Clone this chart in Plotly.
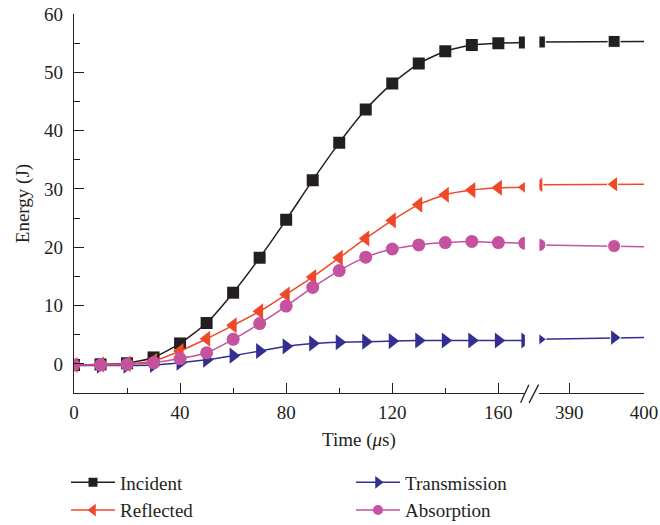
import plotly.graph_objects as go

# ---- data ----
time_left = [0, 10, 20, 30, 40, 50, 60, 70, 80, 90, 100, 110, 120, 130, 140, 150, 160, 170]
time_right = [386, 396, 400]

incident_left = [-0.2, -0.1, 0.1, 1.1, 3.5, 7.0, 12.2, 18.2, 24.7, 31.5, 37.9, 43.6, 48.1, 51.5, 53.6, 54.7, 55.0, 55.1]
incident_right = [55.2, 55.3, 55.3]

reflected_left = [-0.2, -0.1, 0.0, 0.5, 2.2, 4.3, 6.6, 9.0, 11.9, 14.9, 18.2, 21.5, 24.6, 27.3, 29.0, 29.8, 30.2, 30.3]
reflected_right = [30.7, 30.8, 30.8]

transmission_left = [-0.3, -0.3, -0.3, -0.2, 0.2, 0.7, 1.4, 2.2, 3.0, 3.5, 3.7, 3.8, 3.9, 4.0, 4.0, 4.0, 4.0, 4.0]
transmission_right = [4.2, 4.5, 4.5]

absorption_left = [-0.2, -0.2, -0.1, 0.2, 0.9, 1.9, 4.2, 6.9, 9.9, 13.1, 16.0, 18.3, 19.7, 20.4, 20.8, 21.0, 20.8, 20.7]
absorption_right = [20.4, 20.2, 20.1]

series_names = ["Incident", "Reflected", "Transmission", "Absorption"]
left_tick_vals = [0, 40, 80, 120, 160]
right_tick_vals = [390, 400]
y_tick_vals = [0, 10, 20, 30, 40, 50, 60]

# ---- style ----
FONT = "Liberation Serif"
INK = "#231F20"
styles = {
    "Incident": dict(color="#231F20", symbol="square", size=12, lsize=9),
    "Reflected": dict(color="#EE4A2A", symbol="triangle-left", size=14, lsize=11),
    "Transmission": dict(color="#352E92", symbol="triangle-right", size=14, lsize=11),
    "Absorption": dict(color="#C4529F", symbol="circle", size=13, lsize=10),
}
legend_of = {"Incident": "legend", "Reflected": "legend",
             "Transmission": "legend2", "Absorption": "legend2"}

data_left = [incident_left, reflected_left, transmission_left, absorption_left]
data_right = [incident_right, reflected_right, transmission_right, absorption_right]

fig = go.Figure()
for name, yl, yr in zip(series_names, data_left, data_right):
    st = styles[name]
    fig.add_trace(go.Scatter(
        x=time_left, y=yl, name=name, mode="lines+markers", showlegend=False,
        line=dict(color=st["color"], width=1.5, shape="spline", smoothing=0.6),
        marker=dict(color=st["color"], symbol=st["symbol"], size=st["size"], opacity=1),
        xaxis="x", yaxis="y",
    ))
    sizes = [st["size"]] * (len(time_right) - 1) + [0]
    fig.add_trace(go.Scatter(
        x=time_right, y=yr, name=name, mode="lines+markers", showlegend=False,
        line=dict(color=st["color"], width=1.5),
        marker=dict(color=st["color"], symbol=st["symbol"], size=sizes, opacity=1),
        xaxis="x2", yaxis="y",
    ))
    # legend entry (smaller marker, like the reference key)
    fig.add_trace(go.Scatter(
        x=[None], y=[None], name=name, mode="lines+markers",
        line=dict(color=st["color"], width=1.5),
        marker=dict(color=st["color"], symbol=st["symbol"], size=st["lsize"], opacity=1),
        xaxis="x", yaxis="y", legend=legend_of[name],
    ))

axis_common = dict(showline=True, linecolor=INK, linewidth=1.3,
                   ticks="inside", tickcolor=INK, tickwidth=1.3,
                   showgrid=False, zeroline=False, automargin=False,
                   tickfont=dict(family=FONT, size=19, color=INK))

legend_common = dict(xanchor="left", yanchor="top", font=dict(family=FONT, size=19, color=INK),
                     tracegroupgap=0, bgcolor="rgba(0,0,0,0)", itemwidth=44)

fig.update_layout(
    width=660, height=525,
    margin=dict(l=73.5, r=15.5, t=14, b=131.7, autoexpand=False),
    paper_bgcolor="white", plot_bgcolor="white",
    font=dict(family=FONT, size=19, color=INK),
    xaxis=dict(domain=[0, 0.791], range=[0, 170], tickvals=left_tick_vals,
               ticklen=10, ticklabelstandoff=2,
               minor=dict(dtick=20, tick0=0, ticklen=5, ticks="inside",
                          tickcolor=INK, tickwidth=1.3),
               **axis_common),
    xaxis2=dict(domain=[0.8165, 1], range=[386, 400], tickvals=right_tick_vals,
                ticklen=10, ticklabelstandoff=2, anchor="y", **axis_common),
    yaxis=dict(range=[-5, 60], tickvals=y_tick_vals, ticklen=10, ticklabelstandoff=6,
               minor=dict(dtick=5, tick0=0, ticklen=6, ticks="inside",
                          tickcolor=INK, tickwidth=1.3),
               **axis_common),
    legend=dict(x=-0.014, y=-0.186, **legend_common),
    legend2=dict(x=0.486, y=-0.186, **legend_common),
    annotations=[
        dict(text="Time (<i>μ</i>s)", xref="paper", yref="paper",
             x=0.5, y=-0.123, xanchor="center", yanchor="middle",
             showarrow=False, font=dict(family=FONT, size=19, color=INK)),
        dict(text="Energy (J)", xref="paper", yref="paper", textangle=-90,
             x=-0.09, y=0.5, xanchor="center", yanchor="middle",
             showarrow=False, font=dict(family=FONT, size=19, color=INK)),
    ],
    shapes=[
        dict(type="line", xref="paper", yref="paper", x0=0.7835, y0=-0.026, x1=0.798, y1=0.022,
             line=dict(color=INK, width=1.3)),
        dict(type="line", xref="paper", yref="paper", x0=0.7985, y0=-0.026, x1=0.815, y1=0.022,
             line=dict(color=INK, width=1.3)),
    ],
)

fig.write_html("out.html", config={"displayModeBar": False},
               post_script="document.body.style.margin='0px';")
